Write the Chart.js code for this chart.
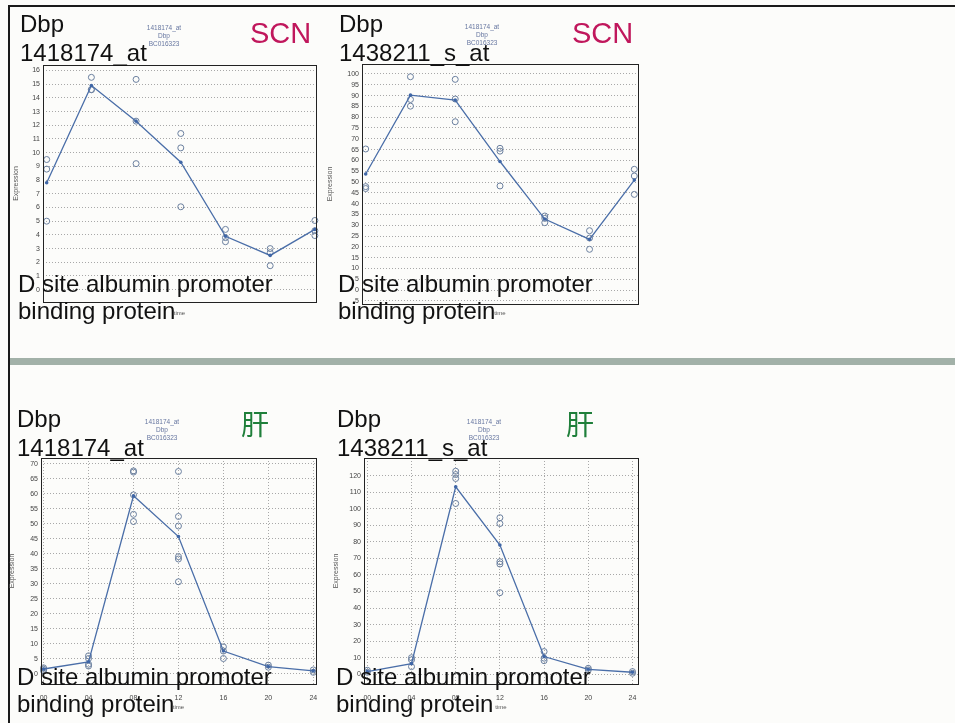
<!DOCTYPE html>
<html>
<head>
<meta charset="utf-8">
<script src="https://cdn.jsdelivr.net/npm/chart.js@4.4.1/dist/chart.umd.min.js"></script>
<style>
  body { margin: 0; width: 955px; height: 723px; background: #fcfcfa; position: relative; overflow: hidden;
         font-family: "Liberation Sans", Arial, sans-serif; }
  canvas { position: absolute; z-index: 1; }
  .rule { position: absolute; background: #1a1a1a; z-index: 0; }
  .divider { position: absolute; left: 10px; right: 0; top: 358px; height: 7px; background: #a2b1a8; }
  .note { position: absolute; z-index: 2; color: #111; font-size: 24px; white-space: nowrap; }
  .head { line-height: 29px; }
  .gene { line-height: 27px; }
  .tissue { position: absolute; z-index: 2; white-space: nowrap; }
  .scn { color: #c0175c; font-size: 29px; line-height: 29px; }
  .liver { color: #1f7f3a; font-size: 28px; line-height: 28px; font-family: "Noto Sans CJK SC", sans-serif; }
</style>
</head>
<body>
<div class="rule" style="left:8px;top:5px;right:0;height:2px"></div>
<div class="rule" style="left:8px;top:5px;bottom:0;width:2px"></div>
<div class="divider"></div>

<div class="note head" style="left:20px;top:9px">Dbp<br>1418174_at</div>
<div class="note head" style="left:339px;top:9px">Dbp<br>1438211_s_at</div>
<div class="note head" style="left:17px;top:404px">Dbp<br>1418174_at</div>
<div class="note head" style="left:337px;top:404px">Dbp<br>1438211_s_at</div>

<div class="tissue scn" style="left:250px;top:19px">SCN</div>
<div class="tissue scn" style="left:572px;top:19px">SCN</div>
<div class="tissue liver" style="left:241px;top:409px">肝</div>
<div class="tissue liver" style="left:566px;top:409px">肝</div>

<div class="note gene" style="left:18px;top:270px">D site albumin promoter<br>binding protein</div>
<div class="note gene" style="left:338px;top:270px">D site albumin promoter<br>binding protein</div>
<div class="note gene" style="left:17px;top:663px">D site albumin promoter<br>binding protein</div>
<div class="note gene" style="left:336px;top:663px">D site albumin promoter<br>binding protein</div>

<script>
// sampling times (h) and their axis labels
const times = [0, 4, 8, 12, 16, 20, 24];
const timeLabels = ['00', '04', '08', '12', '16', '20', '24'];
const probeHeader = ['1418174_at', 'Dbp', 'BC016323'];

// SCN, probe 1418174_at: replicates per time point and the mean curve
const scnA_reps = [[9.5, 8.8, 5.0], [15.5, 14.6, 14.6], [15.35, 12.3, 9.2], [11.4, 10.35, 6.05],
                   [4.4, 3.5, 3.8], [3.0, 1.75, 2.7], [5.05, 3.95, 4.3]];
const scnA_mean = [7.8, 14.9, 12.3, 9.3, 3.9, 2.5, 4.4];
const scnA_ticks = [0, 1, 2, 3, 4, 5, 6, 7, 8, 9, 10, 11, 12, 13, 14, 15, 16];

// SCN, probe 1438211_s_at
const scnB_reps = [[65.3, 47.9, 47.0], [98.7, 88.2, 85.1], [97.5, 88.4, 77.9], [65.6, 64.3, 48.2],
                   [34.3, 33.2, 31.2], [27.5, 24.1, 18.9], [55.9, 52.8, 44.3]];
const scnB_mean = [53.7, 90.2, 87.9, 59.5, 32.9, 23.5, 50.9];
const scnB_ticks = [-5, 0, 5, 10, 15, 20, 25, 30, 35, 40, 45, 50, 55, 60, 65, 70, 75, 80, 85, 90, 95, 100];

// liver, probe 1418174_at
const livA_reps = [[2.0, 1.5, 1.0], [6.0, 5.1, 3.2, 2.6], [67.7, 67.3, 59.7, 53.2, 50.8],
                   [67.5, 52.5, 49.3, 39.1, 38.3, 30.7], [9.0, 7.6, 5.1], [2.9, 2.2], [1.3, 0.5]];
const livA_mean = [1.6, 4.0, 59.4, 45.8, 7.6, 2.4, 1.0];
const livA_ticks = [0, 5, 10, 15, 20, 25, 30, 35, 40, 45, 50, 55, 60, 65, 70];

// liver, probe 1438211_s_at
const livB_reps = [[2.4, 1.2], [10.0, 8.7, 4.6], [122.7, 120.7, 118.3, 103.2],
                   [94.6, 91.1, 68.0, 66.6, 49.3], [13.7, 9.7, 8.2], [3.6, 2.6], [1.6, 0.6]];
const livB_mean = [1.6, 6.4, 113.3, 78.1, 10.7, 3.0, 1.2];
const livB_ticks = [0, 10, 20, 30, 40, 50, 60, 70, 80, 90, 100, 110, 120];

// solid box round the plot area
const plotFrame = {
  id: 'plotFrame',
  afterDraw(chart) {
    const a = chart.chartArea, ctx = chart.ctx;
    ctx.save();
    ctx.strokeStyle = '#222';
    ctx.lineWidth = 1;
    ctx.strokeRect(Math.round(a.left) + 0.5, Math.round(a.top) + 0.5,
                   Math.round(a.right - a.left), Math.round(a.bottom - a.top));
    ctx.restore();
  }
};

const tickFont = { family: '"Liberation Sans", Arial, sans-serif', size: 7 };

function drawPanel(p) {
  const canvas = document.createElement('canvas');
  canvas.width = p.w;
  canvas.height = p.h;
  canvas.style.left = p.left + 'px';
  canvas.style.top = p.top + 'px';
  document.body.appendChild(canvas);

  const points = [];
  p.reps.forEach((vals, i) => vals.forEach(v => points.push({ x: times[i], y: v })));
  const curve = p.mean.map((v, i) => ({ x: times[i], y: v }));

  new Chart(canvas, {
    type: 'scatter',
    data: {
      datasets: [
        {
          data: curve,
          showLine: true,
          borderColor: '#4a6ea8',
          borderWidth: 1.3,
          pointRadius: 1.8,
          pointBackgroundColor: '#3f66a6',
          pointBorderWidth: 0,
          clip: false
        },
        {
          data: points,
          pointRadius: 3,
          pointBorderWidth: 1,
          pointBorderColor: '#6a7f9e',
          pointBackgroundColor: 'rgba(0,0,0,0)',
          clip: false
        }
      ]
    },
    options: {
      responsive: false,
      animation: false,
      devicePixelRatio: 1,
      layout: { padding: { right: 14 } },
      plugins: {
        legend: { display: false },
        tooltip: { enabled: false },
        title: {
          display: true,
          text: probeHeader,
          color: '#6676a0',
          font: { family: '"Liberation Sans", Arial, sans-serif', size: 6.5, weight: 'normal', lineHeight: '8px' },
          padding: { top: 4, bottom: p.headGap }
        }
      },
      scales: {
        x: {
          type: 'linear',
          min: p.xMin,
          max: p.xMax,
          afterBuildTicks: s => { s.ticks = times.map(v => ({ value: v })); },
          afterFit: s => { s.height = p.xH; },
          ticks: {
            display: p.showTime,
            padding: 10,
            color: '#444',
            font: tickFont,
            callback: v => timeLabels[times.indexOf(v)]
          },
          grid: { display: p.showTime, color: '#a8a8a8', drawTicks: false },
          border: { display: false, dash: [1, 2] },
          title: {
            display: true, text: 'time', color: '#555',
            font: { family: '"Liberation Sans", Arial, sans-serif', size: 6 },
            padding: { top: 0, bottom: 1 }
          }
        },
        y: {
          min: p.yMin,
          max: p.yMax,
          afterBuildTicks: s => { s.ticks = p.ticks.map(v => ({ value: v })); },
          afterFit: s => { s.width = p.yW; },
          ticks: { padding: 3, color: '#444', font: tickFont },
          grid: { color: '#a8a8a8', drawTicks: false },
          border: { display: false, dash: [1, 2] },
          title: {
            display: true, text: 'Expression', color: '#555',
            font: { family: '"Liberation Sans", Arial, sans-serif', size: 7 },
            padding: { top: p.yTitlePad, bottom: 0 }
          }
        }
      }
    },
    plugins: [plotFrame]
  });
}

[
  { left: 12, top: 20, w: 318, h: 298, yW: 31, xH: 16, headGap: 17, yTitlePad: 0, showTime: false,
    xMin: -0.33, xMax: 24.1, yMin: -0.9, yMax: 16.4, ticks: scnA_ticks, reps: scnA_reps, mean: scnA_mean },
  { left: 326, top: 19, w: 326, h: 299, yW: 36, xH: 14, headGap: 17, yTitlePad: 0, showTime: false,
    xMin: -0.33, xMax: 24.33, yMin: -6.4, yMax: 104.6, ticks: scnB_ticks, reps: scnB_reps, mean: scnB_mean },
  { left: 8, top: 414, w: 322, h: 298, yW: 33, xH: 28, headGap: 16, yTitlePad: 0, showTime: true,
    xMin: -0.23, xMax: 24.24, yMin: -3.4, yMax: 72, ticks: livA_ticks, reps: livA_reps, mean: livA_mean },
  { left: 330, top: 414, w: 322, h: 298, yW: 34, xH: 28, headGap: 16, yTitlePad: 1.5, showTime: true,
    xMin: -0.3, xMax: 24.5, yMin: -5.9, yMax: 130.7, ticks: livB_ticks, reps: livB_reps, mean: livB_mean }
].forEach(drawPanel);
</script>
</body>
</html>
